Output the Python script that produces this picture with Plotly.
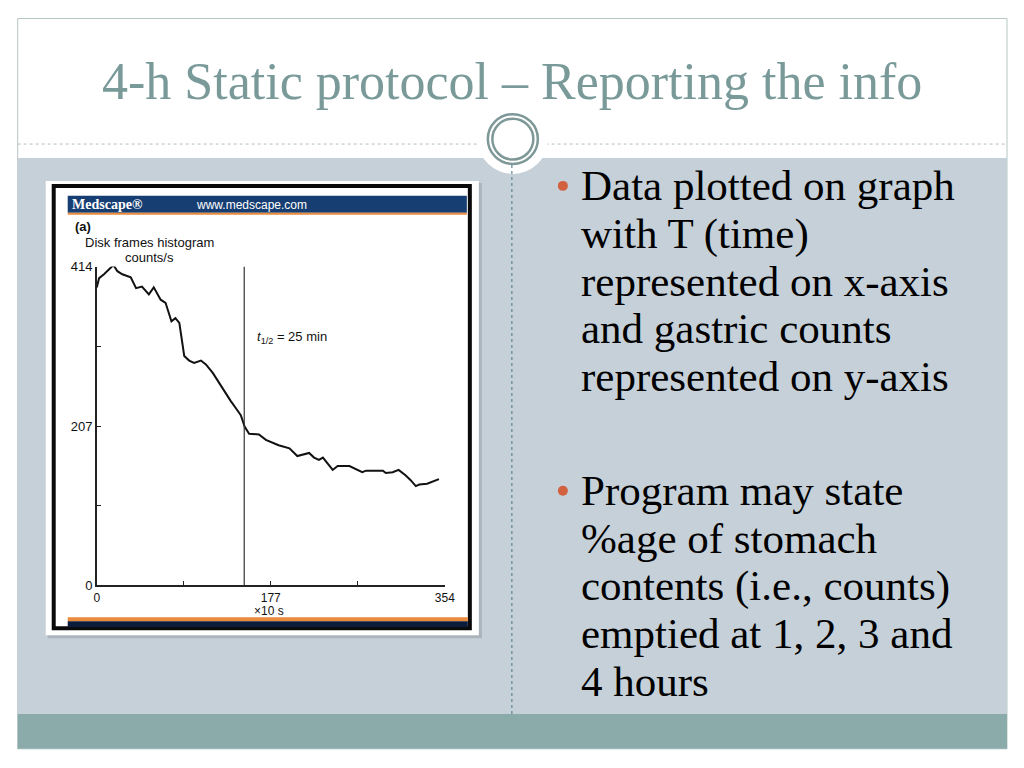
import plotly.graph_objects as go

# ---------------- data ----------------
time_x10s = [0, 2.4, 7.4, 12.5, 17, 21, 26, 34.6, 40, 46, 53, 58, 65, 70, 76, 80, 84,
             89, 94, 99, 106, 111, 118, 124, 131, 136, 141, 146.5, 150.5, 155, 165, 172,
             185, 196, 204, 209, 216, 221, 226, 230, 240, 245, 257, 270, 274, 291, 294,
             301, 307, 314, 319, 324.5, 328, 336, 343, 348]
counts = [387, 399, 404, 410, 416, 408, 404, 400, 386, 388, 378, 387, 371, 367, 343, 347, 341,
          298, 292, 289, 292, 287, 276, 264, 249, 240, 231, 221, 206, 197, 196, 189,
          182, 178, 168, 170, 172, 166, 163, 166, 150, 155, 155, 147, 149, 149, 146,
          147, 150, 143, 137, 129, 131, 132, 136, 138]
half_time = 150          # x10 s  (t1/2 = 25 min)
x_tickvals = [0, 177, 354]
x_minor_ticks = [88.5, 265.5]
y_tickvals = [0, 207, 414]
y_minor_ticks = [103.5, 310.5]

title_text = "4-h Static protocol \u2013 Reporting the info"
bullet1 = ["Data plotted on graph", "with T (time)", "represented on x-axis",
           "and gastric counts", "represented on y-axis"]
bullet2 = ["Program may state", "%age of stomach", "contents (i.e., counts)",
           "emptied at 1, 2, 3 and", "4 hours"]

W, H = 1024, 768
# page placement correction (figure is shown slightly offset / scaled)
AX, BX, AY, BY = 0.987, 10.3, 0.984, 13.5


def px(x):
    return (x - BX) / AX / W


def py(y):
    return 1 - (y - BY) / AY / H


fig = go.Figure()
fig.add_trace(go.Scatter(x=time_x10s, y=counts, mode="lines",
                         line=dict(color="#111111", width=2), hoverinfo="skip",
                         showlegend=False))

shapes = []
# outer slide frame / title area
shapes.append(dict(type="rect", xref="paper", yref="paper", x0=px(17), x1=px(1006),
                   y0=py(750), y1=py(17), line=dict(color="#B8C6C6", width=1),
                   fillcolor="white", layer="below"))
# body area
shapes.append(dict(type="rect", xref="paper", yref="paper", x0=px(17), x1=px(1006),
                   y0=py(715), y1=py(157), line=dict(width=0),
                   fillcolor="#C6D0D8", layer="below"))
# bottom teal bar
shapes.append(dict(type="rect", xref="paper", yref="paper", x0=px(17), x1=px(1006),
                   y0=py(750), y1=py(715), line=dict(width=0),
                   fillcolor="#8AABAA", layer="below"))
# dotted separator line
shapes.append(dict(type="line", xref="paper", yref="paper", x0=px(17), x1=px(1006),
                   y0=py(143), y1=py(143), line=dict(color="#AFC0C0", width=1, dash="dot"),
                   layer="below"))
# white halo round circle
shapes.append(dict(type="circle", xref="paper", yref="paper", x0=px(512 - 35), x1=px(512 + 35),
                   y0=py(138 + 35), y1=py(138 - 35), line=dict(width=0),
                   fillcolor="white", layer="below"))
# double ring
for r, w in ((25, 2.5), (20.5, 2.5)):
    shapes.append(dict(type="circle", xref="paper", yref="paper", x0=px(512 - r), x1=px(512 + r),
                       y0=py(138 + r), y1=py(138 - r), line=dict(color="#7E9898", width=w),
                       fillcolor="rgba(0,0,0,0)", layer="below"))
# vertical dotted divider
shapes.append(dict(type="line", xref="paper", yref="paper", x0=px(511), x1=px(511),
                   y0=py(715), y1=py(163), line=dict(color="#5F8796", width=1.2, dash="dot"),
                   layer="below"))
# image: shadow, white box, black border
shapes.append(dict(type="rect", xref="paper", yref="paper", x0=px(47), x1=px(481),
                   y0=py(639), y1=py(182), line=dict(width=0),
                   fillcolor="rgba(120,130,140,0.35)", layer="below"))
shapes.append(dict(type="rect", xref="paper", yref="paper", x0=px(45), x1=px(478),
                   y0=py(636), y1=py(180), line=dict(width=0),
                   fillcolor="white", layer="below"))
shapes.append(dict(type="rect", xref="paper", yref="paper", x0=px(53), x1=px(469),
                   y0=py(629), y1=py(185), line=dict(color="#0A0A0A", width=4),
                   fillcolor="white", layer="below"))
# Medscape header bar + orange rule
shapes.append(dict(type="rect", xref="paper", yref="paper", x0=px(67), x1=px(466),
                   y0=py(212), y1=py(195), line=dict(width=0),
                   fillcolor="#173E72", layer="below"))
shapes.append(dict(type="rect", xref="paper", yref="paper", x0=px(67), x1=px(466),
                   y0=py(214), y1=py(212), line=dict(width=0),
                   fillcolor="#E98A3C", layer="below"))
# bottom bar of image
shapes.append(dict(type="rect", xref="paper", yref="paper", x0=px(67), x1=px(467),
                   y0=py(622), y1=py(618), line=dict(width=0),
                   fillcolor="#E98A3C", layer="below"))
shapes.append(dict(type="rect", xref="paper", yref="paper", x0=px(67), x1=px(467),
                   y0=py(628), y1=py(622), line=dict(width=0),
                   fillcolor="#0D1B3A", layer="below"))
# bullets
for yb in (185, 491):
    shapes.append(dict(type="circle", xref="paper", yref="paper", x0=px(557), x1=px(567),
                       y0=py(yb + 5), y1=py(yb - 5), line=dict(width=0),
                       fillcolor="#D2613F", layer="below"))
# t1/2 vertical line (data coordinates)
shapes.append(dict(type="line", xref="x", yref="y", x0=half_time, x1=half_time,
                   y0=0, y1=414, line=dict(color="#333333", width=1.2)))

ann = []
ann.append(dict(xref="paper", yref="paper", x=px(511), y=py(80), text=title_text,
                showarrow=False, xanchor="center", yanchor="middle",
                font=dict(family="Liberation Serif", size=52, color="#7A9A9A")))
for i, t in enumerate(bullet1):
    ann.append(dict(xref="paper", yref="paper", x=px(578), y=py(185 + i * 47.8), text=t,
                    showarrow=False, xanchor="left", yanchor="middle",
                    font=dict(family="Liberation Serif", size=43, color="#000000")))
for i, t in enumerate(bullet2):
    ann.append(dict(xref="paper", yref="paper", x=px(578), y=py(491 + i * 47.8), text=t,
                    showarrow=False, xanchor="left", yanchor="middle",
                    font=dict(family="Liberation Serif", size=43, color="#000000")))
# image texts
ann.append(dict(xref="paper", yref="paper", x=px(69), y=py(204), text="<b>Medscape\u00ae</b>",
                showarrow=False, xanchor="left", yanchor="middle",
                font=dict(family="Liberation Serif", size=14, color="white")))
ann.append(dict(xref="paper", yref="paper", x=px(193), y=py(204), text="www.medscape.com",
                showarrow=False, xanchor="left", yanchor="middle",
                font=dict(family="Liberation Sans", size=12, color="white")))
ann.append(dict(xref="paper", yref="paper", x=px(72), y=py(226), text="<b>(a)</b>",
                showarrow=False, xanchor="left", yanchor="middle",
                font=dict(family="Liberation Sans", size=13, color="#111111")))
ann.append(dict(xref="paper", yref="paper", x=px(149), y=py(242), text="Disk frames histogram",
                showarrow=False, xanchor="center", yanchor="middle",
                font=dict(family="Liberation Sans", size=13, color="#111111")))
ann.append(dict(xref="paper", yref="paper", x=px(149), y=py(257), text="counts/s",
                showarrow=False, xanchor="center", yanchor="middle",
                font=dict(family="Liberation Sans", size=13, color="#111111")))
ann.append(dict(xref="paper", yref="paper", x=px(268), y=py(612), text="\u00d710 s",
                showarrow=False, xanchor="center", yanchor="middle",
                font=dict(family="Liberation Sans", size=12, color="#111111")))
ann.append(dict(xref="paper", yref="paper", x=px(254), y=py(337),
                text="<i>t</i><sub>1/2</sub> = 25 min",
                showarrow=False, xanchor="left", yanchor="middle",
                font=dict(family="Liberation Sans", size=13, color="#111111")))

fig.update_layout(
    width=W, height=H,
    margin=dict(l=0, r=0, t=0, b=0),
    paper_bgcolor="white", plot_bgcolor="rgba(0,0,0,0)",
    shapes=shapes, annotations=ann, showlegend=False,
    xaxis=dict(domain=[px(96), px(444)], range=[0, 354], tickmode="array",
               tickvals=x_tickvals, ticks="inside", ticklen=5,
               minor=dict(tickmode="array", tickvals=x_minor_ticks, ticks="inside",
                          ticklen=5, tickcolor="#222222", showgrid=False),
               tickcolor="#222222", showgrid=False, zeroline=False, showline=True,
               linecolor="#222222", linewidth=1.5, ticklabelstandoff=0,
               tickfont=dict(family="Liberation Sans", size=12, color="#111111")),
    yaxis=dict(domain=[py(586), py(266)], range=[0, 414], tickmode="array",
               tickvals=y_tickvals, ticks="inside", ticklen=5,
               minor=dict(tickmode="array", tickvals=y_minor_ticks, ticks="inside",
                          ticklen=5, tickcolor="#222222", showgrid=False),
               tickcolor="#222222", showgrid=False, zeroline=False, showline=True,
               linecolor="#222222", linewidth=1.5,
               tickfont=dict(family="Liberation Sans", size=13, color="#111111")),
)

fig.write_html("out.html")
